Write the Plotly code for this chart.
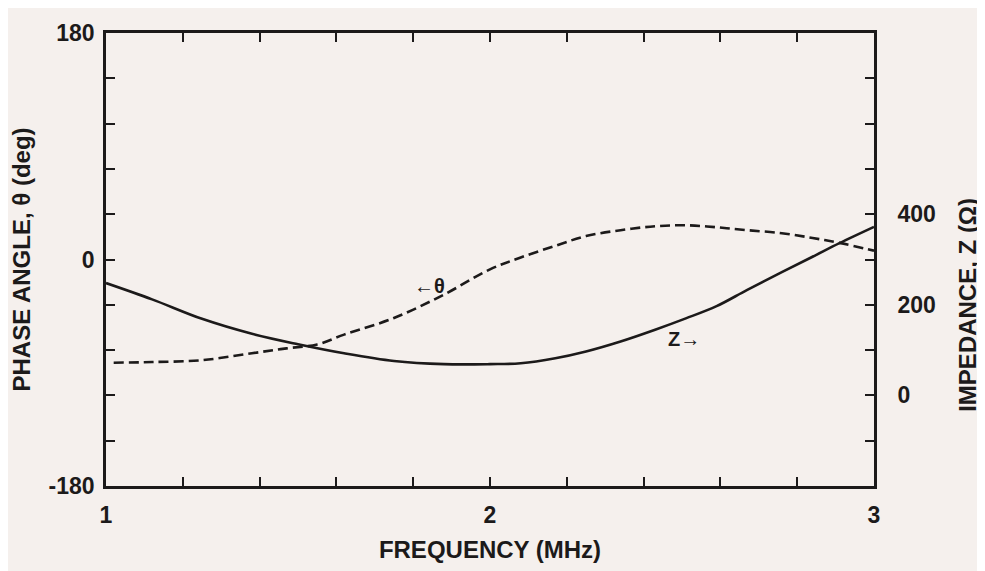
import plotly.graph_objects as go

# impedance curve (right axis)
freq_z = [1.0, 1.12, 1.25, 1.38, 1.5, 1.62, 1.75, 1.88, 2.0, 2.08, 2.17,
          2.25, 2.34, 2.43, 2.51, 2.59, 2.67, 2.76, 2.84, 2.91, 3.0]
z_ohm = [248, 212, 169, 136, 113, 93, 76, 69, 69, 71, 82,
         97, 119, 145, 170, 197, 233, 272, 306, 336, 372]

# phase angle curve (left axis)
freq_theta = [1.02, 1.12, 1.25, 1.38, 1.47, 1.55, 1.62, 1.75, 1.88, 2.0, 2.08,
              2.17, 2.25, 2.34, 2.43, 2.51, 2.59, 2.67, 2.76, 2.84, 2.91, 3.0]
theta_deg = [-82, -81.5, -80, -74.5, -70.6, -67.5, -59.7, -46.5, -27.9, -7.8, 1.6,
             10.9, 18.6, 23.3, 26.4, 27.2, 25.6, 23.3, 20.9, 17.1, 13.2, 7]

x_ticks = [1.0, 1.2, 1.4, 1.6, 1.8, 2.0, 2.2, 2.4, 2.6, 2.8, 3.0]
x_labels = ["1", "", "", "", "", "2", "", "", "", "", "3"]
theta_ticks = [-180, -144, -108, -72, -36, 0, 36, 72, 108, 144, 180]
theta_labels = ["-180", "", "", "", "", "0", "", "", "", "", "180"]
z_ticks = [-200, -100, 0, 100, 200, 300, 400, 500, 600, 700, 800]
z_labels = ["", "", "0", "", "200", "", "400", "", "", "", ""]

ink = "#1c1a1a"
bg = "#f5f0ed"
font_family = "Liberation Sans, Arial, sans-serif"

fig = go.Figure()
fig.add_trace(go.Scatter(
    x=freq_theta, y=theta_deg, mode="lines", line_shape="spline",
    line=dict(color=ink, width=2.6, dash="10px,5px"), yaxis="y", showlegend=False,
))
fig.add_trace(go.Scatter(
    x=freq_z, y=z_ohm, mode="lines", line_shape="spline",
    line=dict(color=ink, width=2.6), yaxis="y2", showlegend=False,
))

fig.add_annotation(x=1.843, y=-21, xref="x", yref="y", text="<b>←θ</b>", showarrow=False,
                   font=dict(size=20, color=ink, family=font_family))
fig.add_annotation(x=2.505, y=-63.5, xref="x", yref="y", text="<b>Z→</b>", showarrow=False,
                   font=dict(size=20, color=ink, family=font_family))
fig.add_annotation(x=1.0, xref="paper", xanchor="center", xshift=94,
                   y=0.4, yref="paper", yanchor="middle",
                   text="<b>IMPEDANCE, Z (Ω)</b>", textangle=-90, showarrow=False,
                   font=dict(size=24, color=ink, family=font_family))

# page body has an 8px margin, so the figure is sized and offset for it
fig.update_layout(
    width=977, height=563,
    margin=dict(l=90, r=111, t=16, b=83),
    plot_bgcolor=bg, paper_bgcolor=bg,
    font=dict(family=font_family, size=23, color=ink, weight="bold"),
    xaxis=dict(
        range=[1, 3], tickvals=x_ticks, ticktext=x_labels,
        ticks="inside", ticklen=9, tickwidth=2, tickcolor=ink,
        showline=True, linewidth=2.6, linecolor=ink, mirror="ticks",
        showgrid=False, zeroline=False, ticklabelstandoff=7,
        title=dict(text="FREQUENCY (MHz)", standoff=14,
                   font=dict(size=24, weight="bold")),
    ),
    yaxis=dict(
        range=[-180, 180], tickvals=theta_ticks, ticktext=theta_labels,
        ticks="inside", ticklen=9, tickwidth=2, tickcolor=ink,
        showline=True, linewidth=2.6, linecolor=ink,
        showgrid=False, zeroline=False, ticklabelstandoff=4,
        title=dict(text="PHASE ANGLE, θ (deg)", standoff=12,
                   font=dict(size=24, weight="bold")),
    ),
    yaxis2=dict(
        range=[-200, 800], tickvals=z_ticks, ticktext=z_labels,
        overlaying="y", side="right",
        ticks="inside", ticklen=9, tickwidth=2, tickcolor=ink,
        showline=True, linewidth=2.6, linecolor=ink,
        showgrid=False, zeroline=False, ticklabelstandoff=16,
    ),
)

fig.write_html("out.html")
